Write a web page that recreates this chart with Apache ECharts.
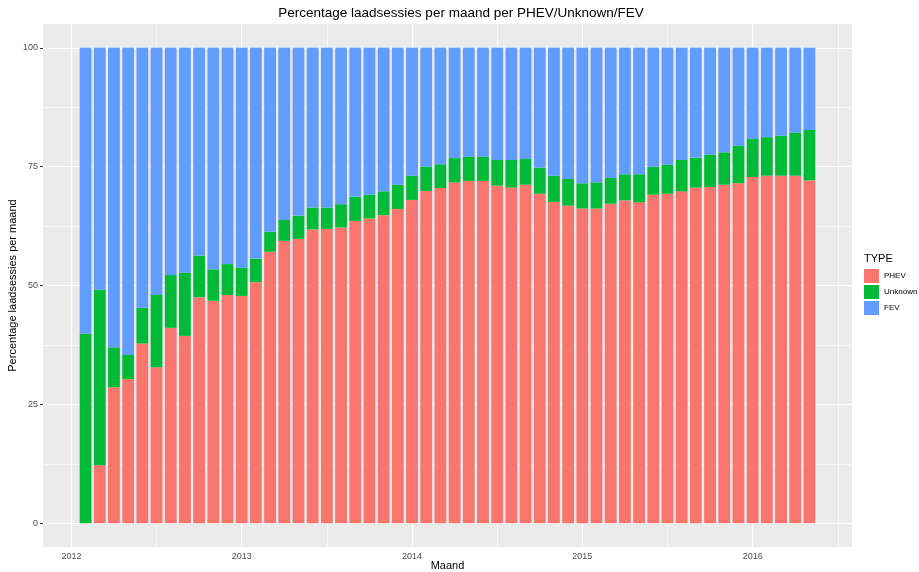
<!DOCTYPE html>
<html>
<head>
<meta charset="utf-8">
<script src="https://cdn.jsdelivr.net/npm/echarts@6/dist/echarts.min.js"></script>
<style>
  html, body { margin: 0; padding: 0; background: #fff; }
  #main { width: 919px; height: 572px; }
</style>
</head>
<body>
<div id="main"></div>
<script>
// maanden vanaf jan 2012 (0 = 2012-01), feb 2012 t/m mei 2016
var months = [];
for (var m = 1; m <= 52; m++) months.push(m);

var phev = [0, 12.2, 28.6, 30.3, 37.8, 32.8, 41.1, 39.4, 47.5, 46.8, 48.0, 47.8,
  50.7, 57.1, 59.4, 59.8, 61.8, 61.9, 62.2, 63.6, 64.1, 64.8, 66.1, 68.0,
  69.9, 70.5, 71.7, 72.0, 72.0, 71.0, 70.6, 71.2, 69.3, 67.6, 66.8, 66.2,
  66.2, 67.2, 67.9, 67.5, 69.1, 69.3, 69.8, 70.6, 70.7, 71.2, 71.5, 72.8,
  73.1, 73.1, 73.1, 72.1];
var unknown = [39.9, 36.9, 8.4, 5.1, 7.5, 15.2, 11.1, 13.3, 8.8, 6.6, 6.5, 6.0,
  4.9, 4.2, 4.4, 4.9, 4.6, 4.5, 4.9, 5.1, 5.0, 5.0, 5.1, 5.1,
  5.1, 5.0, 5.1, 5.1, 5.1, 5.4, 5.8, 5.4, 5.5, 5.5, 5.6, 5.3,
  5.5, 5.4, 5.5, 5.9, 5.9, 6.1, 6.6, 6.3, 6.8, 6.8, 7.9, 8.0,
  8.1, 8.4, 9.1, 10.6];
var fev = [60.1, 50.9, 63.0, 64.6, 54.7, 52.0, 47.8, 47.3, 43.7, 46.6, 45.5, 46.2,
  44.4, 38.7, 36.2, 35.3, 33.6, 33.6, 32.9, 31.3, 30.9, 30.2, 28.8, 26.9,
  25.0, 24.5, 23.2, 22.9, 22.9, 23.6, 23.6, 23.4, 25.2, 26.9, 27.6, 28.5,
  28.3, 27.4, 26.6, 26.6, 25.0, 24.6, 23.6, 23.1, 22.5, 22.0, 20.6, 19.2,
  18.8, 18.5, 17.8, 17.3];

var xTicks = [0, 12, 24, 36, 48];        // 2012 .. 2016
var xMinor = [6, 18, 30, 42, 54];
var yTicks = [0, 25, 50, 75, 100];
var yMinor = [12.5, 37.5, 62.5, 87.5];

// as loopt van -2 t/m 55 maanden (paneel met wat ruimte aan beide kanten)
var cats = [];
for (var c = -2; c <= 55; c++) cats.push(String(c));

function pairs(vals) {
  var out = [];
  for (var i = 0; i < months.length; i++) out.push([String(months[i]), vals[i]]);
  return out;
}

function isYear(idx, val) {
  return xTicks.indexOf(Number(val)) >= 0;
}

// rasterlijnen als markLine achter de staven
var gridLines = [];
xTicks.forEach(function (v) { gridLines.push({ xAxis: String(v), lineStyle: { width: 1.2 } }); });
xMinor.forEach(function (v) { gridLines.push({ xAxis: String(v), lineStyle: { width: 0.6 } }); });
yTicks.forEach(function (v) { gridLines.push({ yAxis: v, lineStyle: { width: 1.2 } }); });
yMinor.forEach(function (v) { gridLines.push({ yAxis: v, lineStyle: { width: 0.6 } }); });

var chart = echarts.init(document.getElementById('main'));
var option = {
  animation: false,
  title: {
    text: 'Percentage laadsessies per maand per PHEV/Unknown/FEV',
    left: 456, top: 1, textAlign: 'center',
    textStyle: { fontFamily: 'Liberation Sans', fontSize: 13.5, fontWeight: 'normal', color: '#000' }
  },
  graphic: [{
    type: 'text', left: 864, top: 253,
    style: { text: 'TYPE', fontFamily: 'Liberation Sans', fontSize: 11, fill: '#000' }
  }],
  legend: {
    orient: 'vertical', left: 859, top: 264,
    icon: 'rect', itemWidth: 15, itemHeight: 14, itemGap: 2,
    data: ['PHEV', 'Unknown', 'FEV'],
    textStyle: { fontFamily: 'Liberation Sans', fontSize: 8, color: '#000' }
  },
  grid: {
    left: 43, right: 67, top: 24, bottom: 25,
    outerBoundsMode: 'none', containLabel: false,
    show: true, backgroundColor: '#EBEBEB', borderWidth: 0
  },
  xAxis: {
    type: 'category', data: cats, boundaryGap: false,
    name: 'Maand', nameLocation: 'middle', nameGap: 13, nameMoveOverlap: false,
    nameTextStyle: { fontFamily: 'Liberation Sans', fontSize: 11, color: '#000' },
    axisLine: { show: false },
    axisTick: { show: true, length: 3, interval: isYear, lineStyle: { color: '#333' } },
    axisLabel: {
      interval: isYear, margin: 5,
      fontFamily: 'Liberation Sans', fontSize: 9, color: '#4D4D4D',
      formatter: function (v) { return String(2012 + Number(v) / 12); }
    },
    splitLine: { show: false }
  },
  yAxis: {
    type: 'value', min: -5, max: 105,
    name: 'Percentage laadsessies per maand', nameLocation: 'middle', nameGap: 25, nameMoveOverlap: false,
    nameTextStyle: { fontFamily: 'Liberation Sans', fontSize: 11, color: '#000' },
    axisLine: { show: false },
    axisTick: { show: true, length: 3, customValues: yTicks, lineStyle: { color: '#333' } },
    axisLabel: {
      customValues: yTicks, margin: 5,
      fontFamily: 'Liberation Sans', fontSize: 9, color: '#4D4D4D'
    },
    splitLine: { show: false }
  },
  series: [
    {
      name: 'PHEV', type: 'bar', stack: 'type', barWidth: 11.8,
      itemStyle: { color: '#F8766D' },
      data: pairs(phev),
      markLine: {
        silent: true, symbol: 'none', z: 1, animation: false,
        label: { show: false },
        lineStyle: { color: '#fff', type: 'solid' },
        data: gridLines
      }
    },
    {
      name: 'Unknown', type: 'bar', stack: 'type', barWidth: 11.8,
      itemStyle: { color: '#00BA38' },
      data: pairs(unknown)
    },
    {
      name: 'FEV', type: 'bar', stack: 'type', barWidth: 11.8,
      itemStyle: { color: '#619CFF' },
      data: pairs(fev)
    }
  ]
};
chart.setOption(option);
</script>
</body>
</html>
